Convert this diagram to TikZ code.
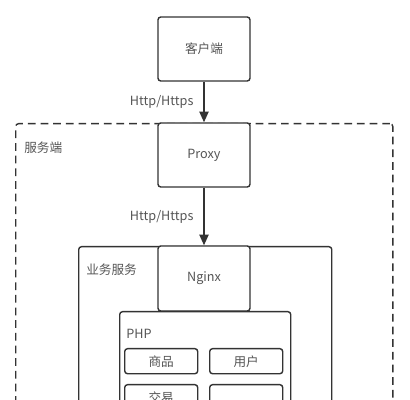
\documentclass[tikz,border=0pt]{standalone}
\usepackage{fontspec}
\setmainfont{Noto Sans CJK SC}
\usetikzlibrary{positioning, arrows.meta}
\definecolor{linegray}{HTML}{333333}
\definecolor{textgray}{HTML}{555555}

\begin{document}
\begin{tikzpicture}[
    x=0.025cm, y=-0.025cm,
    box/.style={rectangle, draw=linegray, line width=1pt, rounded corners=2pt, fill=white, minimum width=2.3cm, minimum height=1.6cm, align=center, font=\fontsize{9}{10}\selectfont, text=textgray, inner sep=0pt},
    group/.style={rectangle, draw=linegray, line width=1pt, rounded corners=2pt, anchor=north west, inner sep=0pt},
    module/.style={rectangle, draw=linegray, line width=1pt, rounded corners=2pt, anchor=north west, minimum width=1.825cm, minimum height=0.625cm, font=\fontsize{9}{10}\selectfont, text=textgray, inner sep=0pt},
    tag/.style={anchor=west, font=\fontsize{9}{10}\selectfont, text=textgray, inner sep=0pt},
    lbl/.style={font=\fontsize{9}{10}\selectfont, text=textgray, inner sep=0pt},
    arrow/.style={-{Triangle[length=7.5pt, width=6.5pt]}, draw=linegray, line width=1pt}
]
\useasboundingbox (0,0) rectangle (410,400);
\clip (0,0) rectangle (410,400);

% Container
\node[group, dashed, dash pattern=on 5.5pt off 3.5pt, minimum width=9.425cm, minimum height=8cm] (server) at (15,123) {};
\node[tag] (serverlbl) at (24,148) {服务端};

\node[group, minimum width=6.325cm, minimum height=6cm] (biz) at (78,246) {};
\node[tag] (bizlbl) at (86,270) {业务服务};

% Main path
\node[box] (client) at (204,49) {客户端};
\node[box] (proxy) at (204,155) {Proxy};
\node[box, minimum height=1.625cm] (nginx) at (204,278.5) {Nginx};

\draw[arrow] (client) -- node[lbl, left=7pt] {Http/Https} (proxy);
\draw[arrow] (proxy) -- node[lbl, left=7pt, yshift=-0.5pt] {Http/Https} (nginx);

% PHP
\node[group, fill=white, minimum width=4.275cm, minimum height=4cm] (php) at (119,311) {};
\node[tag] (phplbl) at (126,334) {PHP};

\node[module] (goods) at (124,348) {商品};
\node[module] (user) at (209,348) {用户};
\node[module] (trade) at (124,384) {交易};
\node[module] (other) at (209,384) {};

\end{tikzpicture}
\end{document}
